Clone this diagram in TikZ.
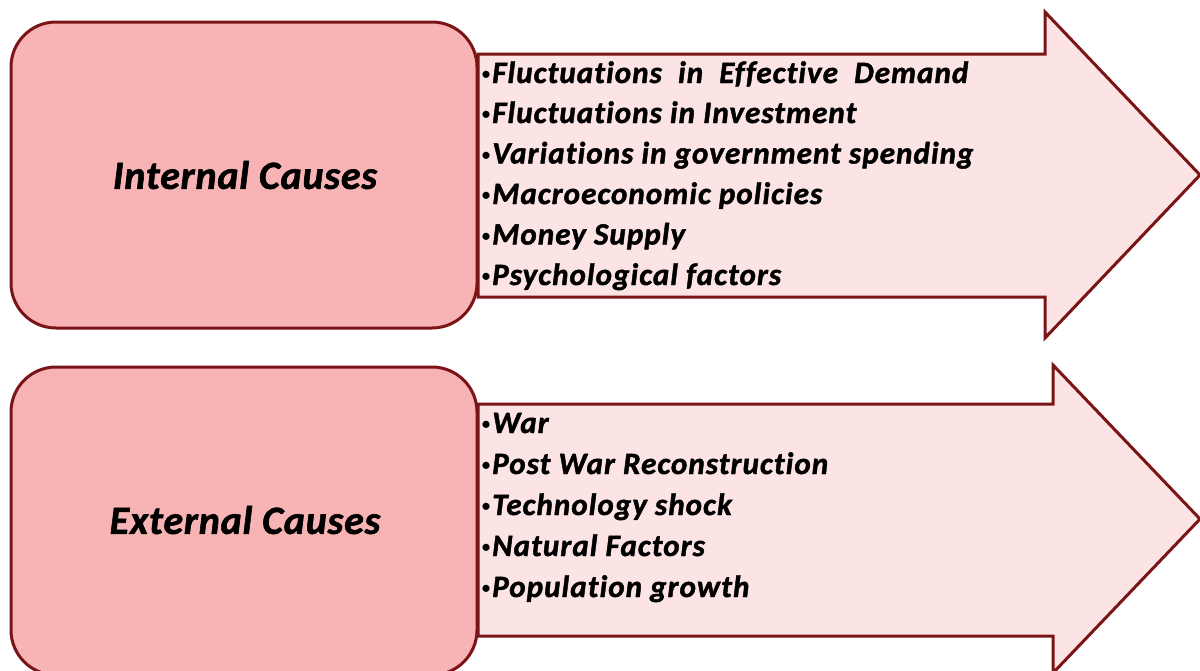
\documentclass[tikz,border=0pt]{standalone}
\usepackage{fontspec}
\setmainfont{Carlito}
\newfontfamily\causefont[LetterSpace=3.5,Ligatures={NoCommon},BoldItalicFeatures={FakeBold=1.5}]{Carlito}
\newfontfamily\headfont[LetterSpace=2,Ligatures={NoCommon},BoldItalicFeatures={FakeBold=1.5}]{Carlito}
\usepackage{tikz}
\definecolor{causeedge}{HTML}{7B1417}
\definecolor{causefill}{HTML}{F8B4B4}
\definecolor{arrowfill}{HTML}{FCE4E4}
\tikzset{
  causebox/.style={line width=3pt, draw=causeedge, fill=causefill, rounded corners=45pt},
  causearrow/.style={line width=3pt, draw=causeedge, fill=arrowfill, line join=miter},
  headtext/.style={font=\headfont\fontsize{40}{48}\selectfont\bfseries\itshape},
  itemtext/.style={anchor=base west, inner sep=0pt, font=\causefont\fontsize{31}{36}\selectfont\bfseries\itshape}
}
\newcommand{\itembullet}{{\normalfont\raisebox{0.15ex}{\scalebox{0.65}{\textbullet}}}\hspace{1pt}}

\begin{document}
\begin{tikzpicture}[x=1pt, y=-1pt]
		%%%%% START %%%%%
		\useasboundingbox (0, 0) rectangle (1200, 670);
		
		% internal causes
		\draw[causearrow] (478, 54) -- (1045, 54) -- (1045, 12) -- (1200, 175) -- (1045, 338) -- (1045, 297) -- (478, 297) -- cycle;
		\draw[causebox] (11, 22) rectangle (477, 328);
		\node[headtext] (internal) at (245, 175) {Internal Causes};
		
		\node[itemtext] (int1) at (481, 83) {\itembullet Fluctuations\ \ in\ \ Effective\ \ Demand};
		\node[itemtext] (int2) at (481, 123) {\itembullet Fluctuations in Investment};
		\node[itemtext] (int3) at (481, 163.5) {\itembullet Variations in government spending};
		\node[itemtext] (int4) at (481, 204) {\itembullet Macroeconomic policies};
		\node[itemtext] (int5) at (481, 244.5) {\itembullet Money Supply};
		\node[itemtext] (int6) at (481, 285) {\itembullet Psychological factors};
		
		% external causes
		\draw[causearrow] (478, 404) -- (1053, 404) -- (1053, 365) -- (1200, 519) -- (1053, 673) -- (1053, 636) -- (478, 636) -- cycle;
		\draw[causebox] (11, 367) rectangle (477, 675);
		\node[headtext] (external) at (245, 520) {External Causes};
		
		\node[itemtext] (ext1) at (481, 433) {\itembullet War};
		\node[itemtext] (ext2) at (481, 474) {\itembullet Post War Reconstruction};
		\node[itemtext] (ext3) at (481, 515) {\itembullet Technology shock};
		\node[itemtext] (ext4) at (481, 556) {\itembullet Natural Factors};
		\node[itemtext] (ext5) at (481, 597) {\itembullet Population growth};
		%%%%% END %%%%%
\end{tikzpicture}
\end{document}
